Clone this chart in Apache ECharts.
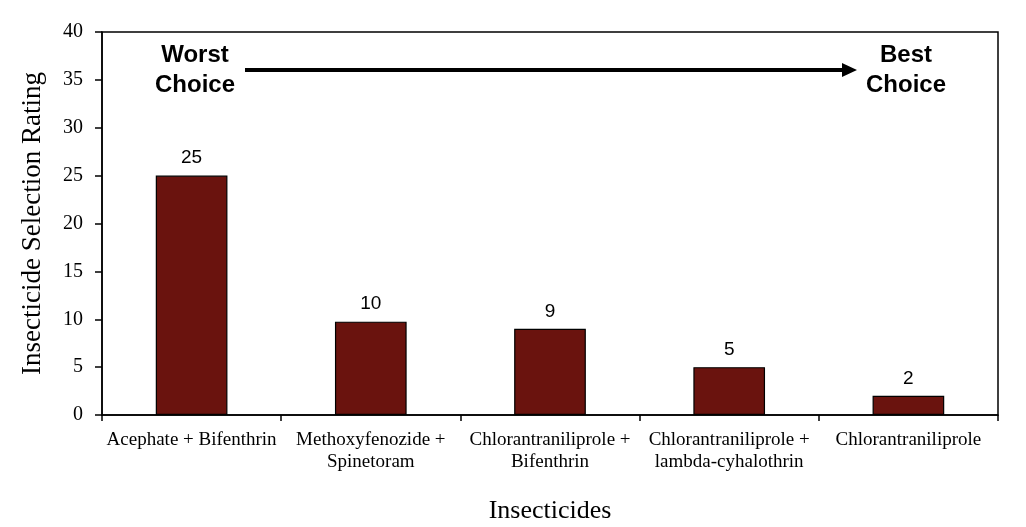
<!DOCTYPE html>
<html><head><meta charset="utf-8">
<script src="https://cdn.jsdelivr.net/npm/echarts@6/dist/echarts.min.js"></script>
<style>html,body{margin:0;padding:0;background:#fff}#c{width:1026px;height:527px}</style>
</head><body><div id="c"></div>
<script>
const categories = ['Acephate + Bifenthrin', 'Methoxyfenozide +\nSpinetoram', 'Chlorantraniliprole +\nBifenthrin', 'Chlorantraniliprole +\nlambda-cyhalothrin', 'Chlorantraniliprole'];
const ratings = [25, 9.75, 9, 5, 2];
const yTicks = { min: 0, max: 40, interval: 5 };

const chart = echarts.init(document.getElementById('c'));
chart.setOption({
  animation: false,
  grid: { left: 102, right: 28, top: 32, bottom: 112, show: true, borderColor: '#000', borderWidth: 1.5, outerBoundsMode: 'none', containLabel: false },
  xAxis: {
    type: 'category', data: categories,
    name: 'Insecticides', nameLocation: 'middle', nameGap: 83,
    nameTextStyle: { fontFamily: 'Liberation Serif', fontSize: 26, color: '#000' },
    axisLine: { lineStyle: { color: '#000', width: 1.5 } },
    axisTick: { show: true, alignWithLabel: false, length: 6, lineStyle: { color: '#000', width: 1.5 } },
    axisLabel: { fontFamily: 'Liberation Serif', fontSize: 19, color: '#000', lineHeight: 22, margin: 14, interval: 0 }
  },
  yAxis: {
    type: 'value', min: yTicks.min, max: yTicks.max, interval: yTicks.interval,
    name: 'Insecticide Selection Rating', nameLocation: 'middle', nameGap: 56, nameMoveOverlap: false,
    nameTextStyle: { fontFamily: 'Liberation Serif', fontSize: 27, color: '#000' },
    axisLine: { show: true, lineStyle: { color: '#000', width: 1.5 } },
    axisTick: { show: true, length: 7, lineStyle: { color: '#000', width: 1.5 } },
    splitLine: { show: false },
    axisLabel: { fontFamily: 'Liberation Serif', fontSize: 20, color: '#000', margin: 19 }
  },
  series: [{
    type: 'bar', data: ratings, barWidth: '40%',
    itemStyle: { color: '#6A130E', borderColor: '#000', borderWidth: 1.2 },
    label: { show: true, position: 'top', distance: 8, fontFamily: 'Liberation Sans', fontSize: 19, color: '#000',
      formatter: p => Math.round(p.value) }
  }],
  graphic: [
    { type: 'text', x: 195, y: 40, style: { text: 'Worst\nChoice', fontFamily: 'Liberation Sans', fontWeight: 'bold', fontSize: 24, lineHeight: 30, fill: '#000', align: 'center', verticalAlign: 'top' } },
    { type: 'text', x: 906, y: 40, style: { text: 'Best\nChoice', fontFamily: 'Liberation Sans', fontWeight: 'bold', fontSize: 24, lineHeight: 30, fill: '#000', align: 'center', verticalAlign: 'top' } },
    { type: 'line', shape: { x1: 245, y1: 70, x2: 845, y2: 70 }, style: { stroke: '#000', lineWidth: 4 } },
    { type: 'polygon', shape: { points: [[842, 63], [857, 70], [842, 77]] }, style: { fill: '#000' } }
  ]
});
</script></body></html>
